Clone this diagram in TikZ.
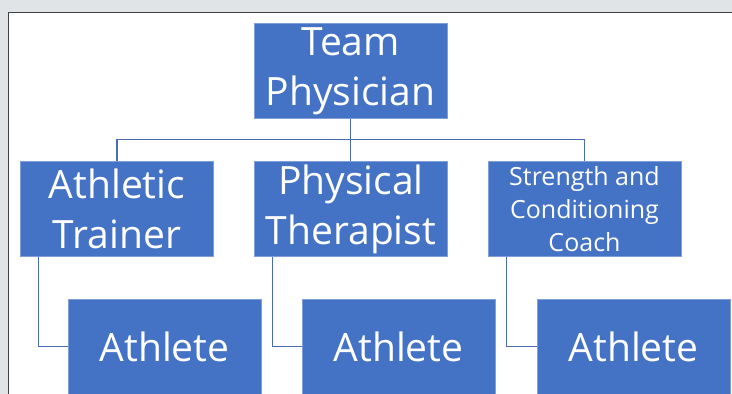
\documentclass[tikz,border=0pt]{standalone}
\usepackage{fontspec}
\setmainfont{Open Sans}
\definecolor{bggray}{HTML}{E1E4E6}
\definecolor{frame}{HTML}{404040}
\definecolor{boxblue}{HTML}{4472C4}
\definecolor{boxedge}{HTML}{7F9FD8}
\definecolor{conn}{HTML}{4A6CB0}
\tikzset{
  orgbox/.style={rectangle, fill=boxblue, draw=boxedge, line width=0.7pt, text=white,
    inner sep=0pt, minimum width=193pt, minimum height=95pt, align=center,
    font=\fontsize{39}{50}\selectfont},
  smallbox/.style={orgbox, font=\fontsize{25}{33}\selectfont},
  link/.style={draw=conn, line width=1.1pt}
}
\begin{document}
\begin{tikzpicture}[x=1pt,y=-1pt]
\useasboundingbox (0,0) rectangle (732,394);
\fill[bggray] (0,0) rectangle (732,394);
\fill[white] (8,12) rectangle (732,394);
\draw[frame, line width=1pt] (8,394) -- (8,12) -- (732,12);
\begin{scope}
\clip (8,12) rectangle (732,394);
\node[orgbox] (team) at (350.5,71) {Team\\Physician};
\node[orgbox] (at) at (117,209) {Athletic\\Trainer};
\node[orgbox] (pt) at (351,209) {Physical\\Therapist};
\node[smallbox] (scc) at (584.5,209) {Strength and\\Conditioning\\Coach};
\node[orgbox] (a1) at (164.5,346.5) {Athlete};
\node[orgbox] (a2) at (398.5,346.5) {Athlete};
\node[orgbox] (a3) at (633.5,346.5) {Athlete};
\draw[link] (team.south) -- (team.south |- pt.north);
\draw[link] (at.north) -- ++(0,-21.3) -| (scc.north);
\draw[link] ([xshift=18pt]at.south west) |- (a1.west);
\draw[link] ([xshift=18.7pt]pt.south west) |- (a2.west);
\draw[link] ([xshift=18.7pt]scc.south west) |- (a3.west);
\end{scope}
\end{tikzpicture}
\end{document}
